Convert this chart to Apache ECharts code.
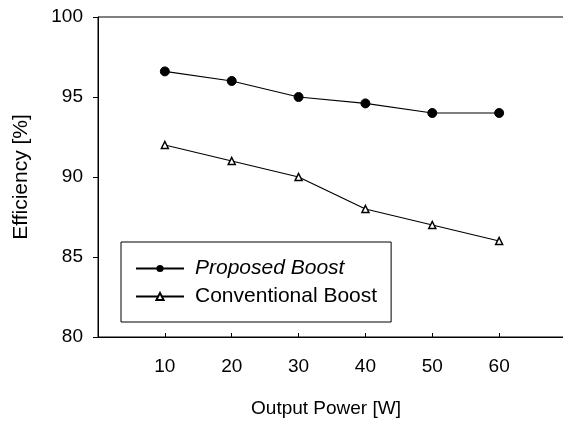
<!DOCTYPE html>
<html><head><meta charset="utf-8">
<script src="https://cdn.jsdelivr.net/npm/echarts@6/dist/echarts.min.js"></script>
<style>html,body{margin:0;padding:0;background:#fff}#c{width:563px;height:433px}</style>
</head><body><div id="c"></div>
<script>
const power = [10, 20, 30, 40, 50, 60];
const proposed = [96.6, 96.0, 95.0, 94.6, 94.0, 94.0];
const conventional = [92.0, 91.0, 90.0, 88.0, 87.0, 86.0];
const yTicks = [80, 85, 90, 95, 100];
const xTickLabels = [10, 20, 30, 40, 50, 60];

const font = 'Liberation Sans, Arial, sans-serif';
const chart = echarts.init(document.getElementById('c'), null, {renderer: 'canvas'});
chart.setOption({
  animation: false,
  backgroundColor: '#fff',
  grid: {left: 98, top: 17, height: 320, width: 468, outerBoundsMode: 'none', containLabel: false,
    show: true, borderColor: '#000', borderWidth: 1, backgroundColor: 'transparent'},
  xAxis: {
    type: 'value', min: 0, max: 70, interval: 10,
    axisLine: {show: true, lineStyle: {color: '#000', width: 1}},
    axisTick: {show: true, inside: true, length: 4, lineStyle: {color: '#000'}},
    splitLine: {show: false},
    axisLabel: {
      margin: 20, color: '#000', fontSize: 19, fontFamily: font,
      formatter: v => xTickLabels.includes(v) ? String(v) : ''
    }
  },
  yAxis: {
    type: 'value', min: yTicks[0], max: yTicks[yTicks.length - 1], interval: 5,
    axisLine: {show: true, lineStyle: {color: '#000', width: 1}},
    axisTick: {show: true, inside: false, length: 5, lineStyle: {color: '#000'}},
    splitLine: {show: false},
    axisLabel: {margin: 15, color: '#000', fontSize: 19, fontFamily: font}
  },
  legend: {
    orient: 'vertical', left: 121, top: 242,
    backgroundColor: '#fff', borderColor: '#000', borderWidth: 1,
    padding: [16, 14, 15, 14],
    itemWidth: 48, itemHeight: 9, itemGap: 7,
    textStyle: {color: '#000', fontSize: 21, fontFamily: font, padding: [0, 0, 0, 6],
      rich: {i: {fontStyle: 'italic', fontSize: 21, fontFamily: font, color: '#000'}}},
    formatter: n => n === 'Proposed Boost' ? '{i|' + n + '}' : n,
    data: ['Proposed Boost', 'Conventional Boost']
  },
  graphic: [
    {type: 'text', style: {text: 'Output Power [W]', x: 326, y: 409, align: 'center', verticalAlign: 'middle', fontSize: 19, fontFamily: font, fill: '#000'}},
    {type: 'text', x: 21, y: 177, rotation: Math.PI / 2, style: {text: 'Efficiency [%]', align: 'center', verticalAlign: 'middle', fontSize: 21, fontFamily: font, fill: '#000'}}
  ],
  series: [
    {name: 'Proposed Boost', type: 'line', data: power.map((p, i) => [p, proposed[i]]),
      symbol: 'circle', symbolSize: 9, lineStyle: {color: '#000', width: 1.2},
      itemStyle: {color: '#000', borderColor: '#000'}},
    {name: 'Conventional Boost', type: 'line', data: power.map((p, i) => [p, conventional[i]]),
      symbol: 'triangle', symbolSize: 7, lineStyle: {color: '#000', width: 1.2},
      itemStyle: {color: '#fff', borderColor: '#000', borderWidth: 1.5}}
  ]
});
</script></body></html>
